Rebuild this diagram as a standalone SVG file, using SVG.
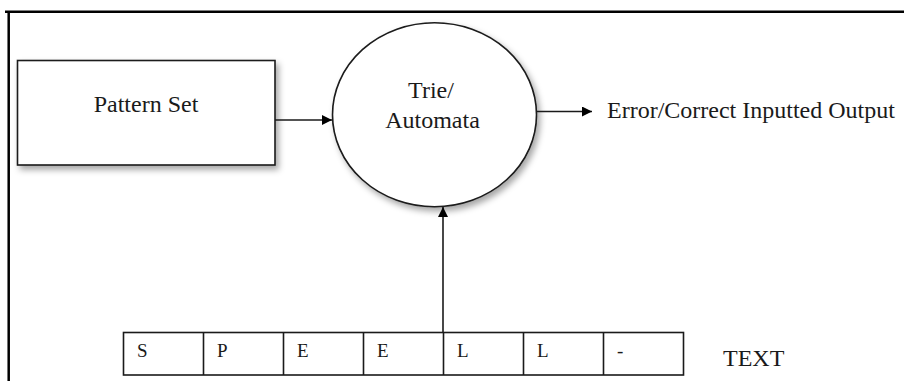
<svg xmlns="http://www.w3.org/2000/svg" width="904" height="381" viewBox="0 0 904 381">
  <defs>
    <style>
      .shape { fill: #ffffff; stroke: #1a1a1a; stroke-width: 1.6; }
      .wire { fill: none; stroke: #1a1a1a; stroke-width: 1.6; }
      .frame { fill: none; stroke: #000000; stroke-width: 2.5; }
      .tape { fill: #ffffff; stroke: #1a1a1a; stroke-width: 1.6; }
      .cell { font-size: 19px; }
    </style>
    <filter id="shadow" x="-20%" y="-20%" width="150%" height="150%">
      <feDropShadow dx="3" dy="4" stdDeviation="3" flood-color="#000000" flood-opacity="0.35"/>
    </filter>
    <marker id="arrow" viewBox="0 0 10 10" refX="10" refY="5" markerWidth="11" markerHeight="10" markerUnits="userSpaceOnUse" orient="auto">
      <path d="M0,0 L10,5 L0,10 z" fill="#000000"/>
    </marker>
  </defs>

  <!-- page frame (top and left rules) -->
  <g id="frame">
    <path class="frame" d="M5,11.8 H904 M8.7,11.8 V381"/>
  </g>

  <g font-family="'Liberation Serif', 'Times New Roman', serif" font-size="24" fill="#1a1a1a">
    <!-- pattern set box -->
    <g id="pattern-set">
      <rect class="shape" x="17.5" y="60.5" width="257.5" height="104.5" filter="url(#shadow)"/>
      <text x="146" y="112" text-anchor="middle">Pattern Set</text>
    </g>

    <!-- trie / automata -->
    <g id="trie-automata">
      <ellipse class="shape" cx="434.5" cy="114.7" rx="102" ry="92" filter="url(#shadow)"/>
      <text x="431" y="98" text-anchor="middle">Trie/</text>
      <text x="432.5" y="128" text-anchor="middle">Automata</text>
    </g>

    <!-- output label -->
    <g id="output">
      <text x="607" y="118">Error/Correct Inputted Output</text>
    </g>

    <!-- input tape -->
    <g id="text-tape">
      <rect class="tape" x="123.5" y="332.5" width="560" height="42.5"/>
      <path class="wire" d="M203.5,332.5 V375 M283.5,332.5 V375 M363.5,332.5 V375 M443.5,332.5 V375 M523.5,332.5 V375 M603.5,332.5 V375"/>
      <text class="cell" x="137" y="357">S</text>
      <text class="cell" x="217" y="357">P</text>
      <text class="cell" x="297" y="357">E</text>
      <text class="cell" x="377" y="357">E</text>
      <text class="cell" x="457" y="357">L</text>
      <text class="cell" x="537" y="357">L</text>
      <text class="cell" x="617" y="357">-</text>
    </g>

    <g id="text-label">
      <text x="723" y="366">TEXT</text>
    </g>
  </g>

  <!-- connectors -->
  <g id="connectors">
    <line class="wire" x1="275" y1="120" x2="332" y2="120" marker-end="url(#arrow)"/>
    <line class="wire" x1="537" y1="111.5" x2="592" y2="111.5" marker-end="url(#arrow)"/>
    <line class="wire" x1="443" y1="332.5" x2="443" y2="207" marker-end="url(#arrow)"/>
  </g>
</svg>
